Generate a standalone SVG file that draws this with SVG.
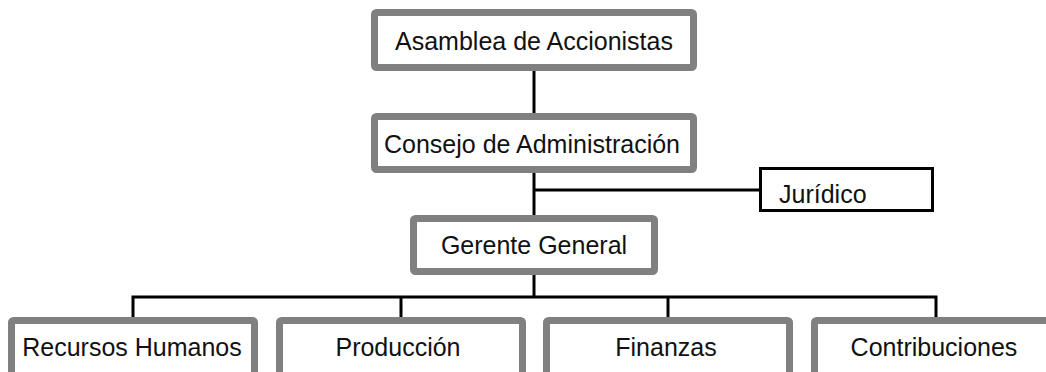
<svg xmlns="http://www.w3.org/2000/svg" width="1046" height="372" viewBox="0 0 1046 372">
<style>
.box{fill:#fff;stroke:#808080;stroke-width:7;}
.thin{fill:#fff;stroke:#000;stroke-width:3;}
.lbl{font-family:"Liberation Sans",Arial,sans-serif;font-size:25px;fill:#111;text-anchor:middle;}
.conn{fill:none;stroke:#000;stroke-width:3;}
</style>
<rect width="1046" height="372" fill="#fff"/>
<g id="connectors">
<line class="conn" x1="534" y1="71" x2="534" y2="113"/>
<line class="conn" x1="534" y1="173" x2="534" y2="215"/>
<line class="conn" x1="534" y1="190" x2="760" y2="190"/>
<line class="conn" x1="534" y1="275" x2="534" y2="297"/>
<polyline class="conn" points="133,317 133,297 936,297 936,317"/>
<line class="conn" x1="401" y1="297" x2="401" y2="317"/>
<line class="conn" x1="668" y1="297" x2="668" y2="317"/>
</g>
<g id="asamblea">
<rect class="box" x="374.5" y="12.5" width="319" height="55" rx="2"/>
<text class="lbl" x="534" y="50">Asamblea de Accionistas</text>
</g>
<g id="consejo">
<rect class="box" x="374.5" y="116.5" width="319" height="53" rx="2"/>
<text class="lbl" x="532" y="153">Consejo de Administración</text>
</g>
<g id="juridico">
<rect class="thin" x="760.5" y="168.5" width="172" height="42"/>
<text class="lbl" x="779" y="203" style="text-anchor:start">Jurídico</text>
</g>
<g id="gerente">
<rect class="box" x="413.5" y="218.5" width="241" height="53" rx="2"/>
<text class="lbl" x="534" y="254">Gerente General</text>
</g>
<g id="rrhh">
<rect class="box" x="11.5" y="320.5" width="243" height="60" rx="2"/>
<text class="lbl" x="132" y="356">Recursos Humanos</text>
</g>
<g id="produccion">
<rect class="box" x="279.5" y="320.5" width="243" height="60" rx="2"/>
<text class="lbl" x="398" y="356">Producción</text>
</g>
<g id="finanzas">
<rect class="box" x="546.5" y="320.5" width="243" height="60" rx="2"/>
<text class="lbl" x="666" y="356">Finanzas</text>
</g>
<g id="contribuciones">
<rect class="box" x="814.5" y="320.5" width="243" height="60" rx="2"/>
<text class="lbl" x="934" y="356">Contribuciones</text>
</g>
</svg>
